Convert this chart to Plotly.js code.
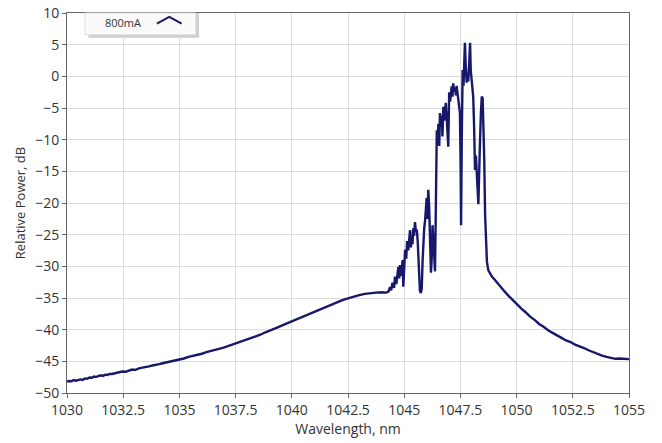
<!DOCTYPE html>
<html>
<head>
<meta charset="utf-8">
<script src="https://cdn.plot.ly/plotly-3.0.1.min.js"></script>
<style>html,body{margin:0;padding:0;background:#fff;}#chart{width:662px;height:443px;}</style>
</head>
<body>
<div id="chart"></div>
<script>
// Wavelength (nm) and relative power (dB)
const wavelength = [
1030.0,1030.1,1030.2,1030.3,1030.4,1030.5,1030.6,1030.7,1030.8,1030.9,
1031.0,1031.1,1031.2,1031.3,1031.4,1031.5,1031.6,1031.7,1031.8,1031.9,
1032.0,1032.15,1032.3,1032.45,1032.6,1032.75,1032.9,1033.05,1033.2,1033.35,
1033.5,1033.65,1033.8,1033.95,1034.1,1034.25,1034.4,1034.55,1034.7,1034.85,
1035.0,1035.2,1035.4,1035.6,1035.8,1036.0,1036.2,1036.4,1036.6,1036.8,
1037.0,1037.2,1037.4,1037.6,1037.8,1038.0,1038.2,1038.4,1038.6,1038.8,
1039.0,1039.2,1039.4,1039.6,1039.8,1040.0,1040.2,1040.4,1040.6,1040.8,
1041.0,1041.2,1041.4,1041.6,1041.8,1042.0,1042.25,1042.5,1042.75,1043.0,
1043.25,1043.5,1043.75,1044.0,1044.2,
1044.30,1044.37,1044.42,1044.48,1044.55,1044.59,1044.65,1044.70,1044.74,1044.78,
1044.81,1044.86,1044.89,1044.93,1044.96,1045.00,1045.04,1045.09,1045.13,1045.18,
1045.22,1045.26,1045.30,1045.33,1045.37,1045.40,1045.44,1045.48,1045.52,1045.56,
1045.60,1045.63,1045.67,1045.70,1045.74,1045.78,1045.82,1045.85,1045.89,1045.93,
1045.96,1046.00,1046.04,1046.07,1046.11,1046.15,1046.19,1046.22,1046.26,1046.29,
1046.33,1046.37,1046.41,1046.45,1046.48,1046.52,1046.56,1046.59,1046.63,1046.67,
1046.70,1046.74,1046.78,1046.81,1046.85,1046.89,1046.93,1046.96,1047.00,1047.04,
1047.08,1047.11,1047.15,1047.18,1047.22,1047.26,1047.30,1047.33,1047.37,1047.41,
1047.45,1047.48,1047.51,1047.53,1047.56,1047.60,1047.64,1047.67,1047.70,1047.74,
1047.78,1047.81,1047.85,1047.89,1047.93,1047.96,1048.00,1048.04,1048.07,1048.11,
1048.15,1048.19,1048.22,1048.26,1048.30,1048.33,1048.37,1048.41,1048.45,1048.49,
1048.52,1048.56,1048.60,1048.64,1048.68,1048.74,1048.82,1048.90,1049.0,1049.1,
1049.2,1049.3,1049.4,1049.6,1049.8,1050.0,1050.2,1050.4,1050.6,1050.8,
1051.0,1051.2,1051.4,1051.6,1051.8,1052.0,1052.2,1052.4,1052.6,1052.8,
1053.0,1053.2,1053.4,1053.6,1053.8,1054.0,1054.2,1054.4,1054.6,1054.8,
1055.0
];
const power = [
-48.2,-48.1,-48.15,-47.95,-48.05,-47.9,-47.85,-47.95,-47.7,-47.75,
-47.55,-47.6,-47.4,-47.45,-47.35,-47.2,-47.3,-47.1,-47.15,-47.0,
-47.0,-46.85,-46.8,-46.6,-46.65,-46.45,-46.3,-46.35,-46.1,-46.0,
-45.95,-45.8,-45.65,-45.6,-45.45,-45.3,-45.2,-45.1,-44.95,-44.85,
-44.7,-44.55,-44.3,-44.15,-43.95,-43.8,-43.55,-43.4,-43.15,-43.0,
-42.8,-42.55,-42.35,-42.05,-41.85,-41.6,-41.3,-41.05,-40.8,-40.45,
-40.2,-39.9,-39.6,-39.3,-39.0,-38.7,-38.4,-38.05,-37.75,-37.45,
-37.1,-36.8,-36.5,-36.25,-35.95,-35.7,-35.35,-35.05,-34.75,-34.55,
-34.35,-34.2,-34.15,-34.1,-34.15,
-34.0,-33.3,-33.8,-32.6,-33.4,-31.6,-32.8,-31.0,-30.1,-31.9,
-29.8,-31.5,-30.5,-29.0,-33.2,-30.0,-27.4,-28.8,-26.0,-27.5,
-25.0,-24.3,-27.0,-25.4,-26.5,-24.0,-25.2,-23.0,-24.5,-24.2,
-26.0,-29.5,-33.0,-33.9,-34.2,-33.5,-29.0,-26.5,-24.0,-22.7,
-21.0,-19.2,-22.5,-17.9,-20.5,-26.0,-31.0,-29.0,-23.5,-25.5,
-29.5,-30.8,-20.0,-8.5,-10.8,-7.5,-11.0,-5.8,-8.0,-6.2,
-9.5,-4.8,-7.0,-5.5,-4.2,-6.5,-9.0,-11.1,-2.5,-4.0,
-2.8,-1.6,-3.2,-1.1,-2.4,-1.8,-3.0,-1.5,-2.6,-3.8,
-4.8,-5.8,-14.0,-23.5,-10.0,1.0,-1.5,3.0,5.3,1.5,
-1.0,0.5,-0.8,2.0,5.3,1.0,-0.6,-2.0,-3.2,-8.0,
-14.8,-12.5,-14.0,-17.5,-20.2,-14.0,-10.5,-6.0,-3.2,-3.5,
-6.5,-13.0,-22.0,-27.0,-29.3,-30.6,-31.2,-31.6,-32.0,-32.45,
-32.8,-33.25,-33.7,-34.5,-35.25,-35.9,-36.65,-37.25,-37.95,-38.45,
-39.1,-39.55,-40.1,-40.5,-40.95,-41.3,-41.7,-41.95,-42.35,-42.6,
-42.9,-43.25,-43.55,-43.9,-44.1,-44.3,-44.45,-44.6,-44.55,-44.65,
-44.65
];
const seriesName = "800mA";
const xTicks = [1030,1032.5,1035,1037.5,1040,1042.5,1045,1047.5,1050,1052.5,1055];
const xTickText = ["1030","1032.5","1035","1037.5","1040","1042.5","1045","1047.5","1050","1052.5","1055"];
const yTicks = [10,5,0,-5,-10,-15,-20,-25,-30,-35,-40,-45,-50];

const lineColor = "#17186b";
const trace = {
  x: wavelength, y: power, type: "scatter", mode: "lines",
  name: seriesName,
  line: {color: lineColor, width: 2.4},
  showlegend: false
};

const axisCommon = {
  showline: true, linecolor: "#666", linewidth: 1, mirror: true,
  showgrid: true, gridcolor: "#dcdcdc", gridwidth: 1,
  ticks: "outside", ticklen: 4, tickcolor: "#666",
  zeroline: false,
  tickfont: {family: "Open Sans, DejaVu Sans, sans-serif", size: 14, color: "#333"}
};

const layout = {
  width: 662, height: 443,
  margin: {l: 67, r: 33, t: 13, b: 50},
  paper_bgcolor: "#fff", plot_bgcolor: "#fff",
  xaxis: Object.assign({}, axisCommon, {
    range: [1030, 1055], tickvals: xTicks, ticktext: xTickText,
    title: {text: "Wavelength, nm", standoff: 4, font: {family: "Open Sans, DejaVu Sans, sans-serif", size: 14, color: "#333"}}
  }),
  yaxis: Object.assign({}, axisCommon, {
    range: [-50, 10], tickvals: yTicks,
    title: {text: "Relative Power, dB", standoff: 6, font: {family: "Open Sans, DejaVu Sans, sans-serif", size: 13, color: "#333"}}
  }),
  shapes: [
    {type: "rect", xref: "paper", yref: "paper", x0: 0.038, x1: 0.235, y0: 0.935, y1: 1.0,
     fillcolor: "#cfcfcf", line: {width: 0}, layer: "above"},
    {type: "rect", xref: "paper", yref: "paper", x0: 0.032, x1: 0.229, y0: 0.943, y1: 1.0,
     fillcolor: "#fafafa", line: {color: "#e0e0e0", width: 1}, layer: "above"},
    {type: "path", xref: "paper", yref: "paper",
     path: "M 0.160 0.972 L 0.182 0.990 L 0.204 0.972",
     line: {color: lineColor, width: 2}, layer: "above"}
  ],
  annotations: [
    {xref: "paper", yref: "paper", x: 0.1, y: 0.976, text: seriesName, showarrow: false,
     xanchor: "center", yanchor: "middle",
     font: {family: "Open Sans, DejaVu Sans, sans-serif", size: 11, color: "#333"}}
  ]
};

Plotly.newPlot("chart", [trace], layout, {displayModeBar: false, staticPlot: true});
</script>
</body>
</html>
